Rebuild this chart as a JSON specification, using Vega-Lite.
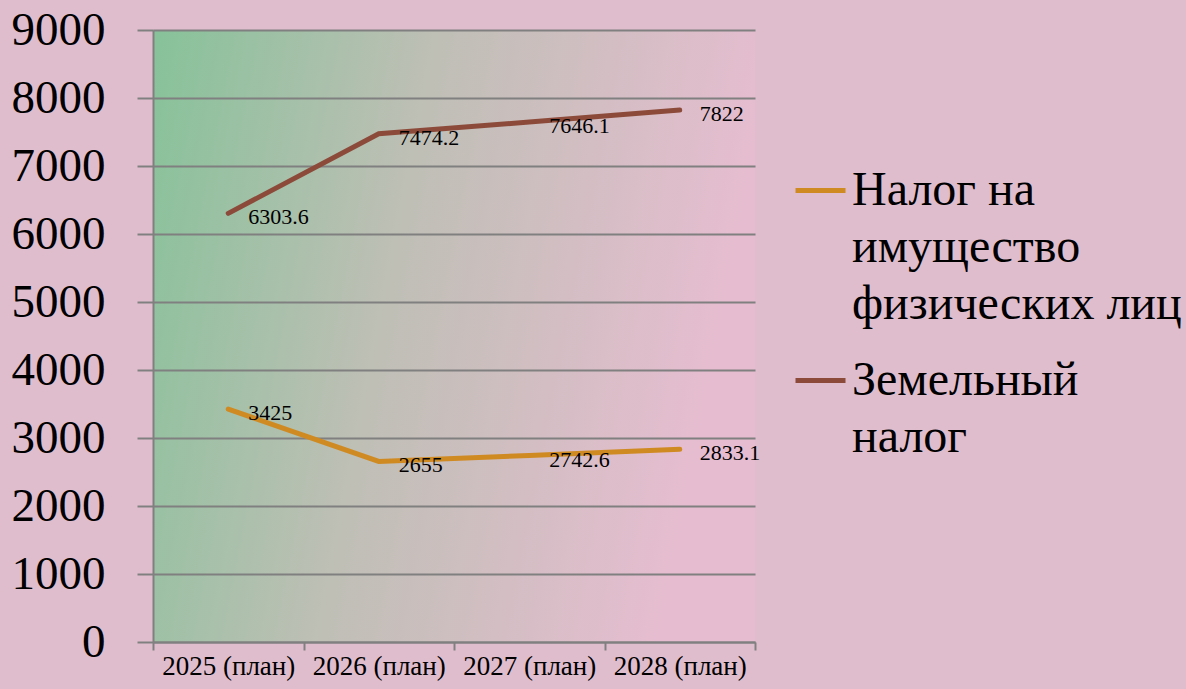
{
  "$schema": "https://vega.github.io/schema/vega-lite/v6.json",
  "autosize": "none",
  "width": 602,
  "height": 612,
  "padding": {"left": 153, "top": 30, "right": 431, "bottom": 47},
  "background": "#dfbdcd",
  "config": {
    "view": {"stroke": null, "fill": {"gradient": "linear", "x1": 0, "y1": 0, "x2": 1, "y2": 0.2, "stops": [{"offset": 0, "color": "#86c299"}, {"offset": 0.45, "color": "#bebfb5"}, {"offset": 1, "color": "#e6bdd0"}]}},
    "font": "Liberation Serif",
    "style": {"guide-label": {"lineHeight": 57}}
  },
  "data": {"values": [
    {"year": "2025 (план)", "tax": "Налог на имущество физических лиц", "value": 3425},
    {"year": "2026 (план)", "tax": "Налог на имущество физических лиц", "value": 2655},
    {"year": "2027 (план)", "tax": "Налог на имущество физических лиц", "value": 2742.6},
    {"year": "2028 (план)", "tax": "Налог на имущество физических лиц", "value": 2833.1},
    {"year": "2025 (план)", "tax": "Земельный налог", "value": 6303.6},
    {"year": "2026 (план)", "tax": "Земельный налог", "value": 7474.2},
    {"year": "2027 (план)", "tax": "Земельный налог", "value": 7646.1},
    {"year": "2028 (план)", "tax": "Земельный налог", "value": 7822}
  ]},
  "encoding": {
    "x": {"field": "year", "type": "nominal", "bandPosition": 0.5,
      "scale": {"type": "band", "paddingInner": 0, "paddingOuter": 0},
      "axis": {"title": null, "labelAngle": 0, "labelFont": "Liberation Serif", "labelFontSize": 27, "labelColor": "#000000", "tickBand": "extent", "tickSize": 8, "tickColor": "#808080", "tickWidth": 2, "domainColor": "#808080", "domainWidth": 2, "labelPadding": 3, "grid": false}},
    "y": {"field": "value", "type": "quantitative",
      "scale": {"domain": [0, 9000], "nice": false},
      "axis": {"title": null, "format": "d", "values": [0,1000,2000,3000,4000,5000,6000,7000,8000,9000], "labelFont": "Liberation Serif", "labelFontSize": 47, "labelColor": "#000000", "tickSize": 16, "tickColor": "#808080", "tickWidth": 2, "domainColor": "#808080", "domainWidth": 2, "gridColor": "#808080", "gridWidth": 2, "labelPadding": 32}}
  },
  "layer": [
    {
      "mark": {"type": "line", "strokeWidth": 5, "strokeCap": "round"},
      "encoding": {
        "color": {"field": "tax", "type": "nominal",
          "sort": ["Налог на имущество физических лиц", "Земельный налог"],
          "scale": {"domain": ["Налог на имущество физических лиц", "Земельный налог"], "range": ["#d08a22", "#8c4b3a"]},
          "legend": {"title": null, "orient": "none", "legendX": 640, "legendY": 133, "symbolType": "stroke", "symbolStrokeWidth": 5, "symbolSize": 2500, "labelFont": "Liberation Serif", "labelFontSize": 48, "labelColor": "#000000", "labelLimit": 0, "labelOffset": 4, "rowPadding": 24,
            "labelExpr": "datum.label == 'Земельный налог' ? ['Земельный', 'налог'] : ['Налог на', 'имущество', 'физических лиц']"}
        }
      }
    },
    {
      "mark": {"type": "text", "align": "left", "baseline": "middle", "dx": 20, "dy": 4, "fontSize": 22, "font": "Liberation Serif", "color": "#000000"},
      "encoding": {"text": {"field": "value", "type": "quantitative"}, "detail": {"field": "tax"}}
    }
  ]
}
